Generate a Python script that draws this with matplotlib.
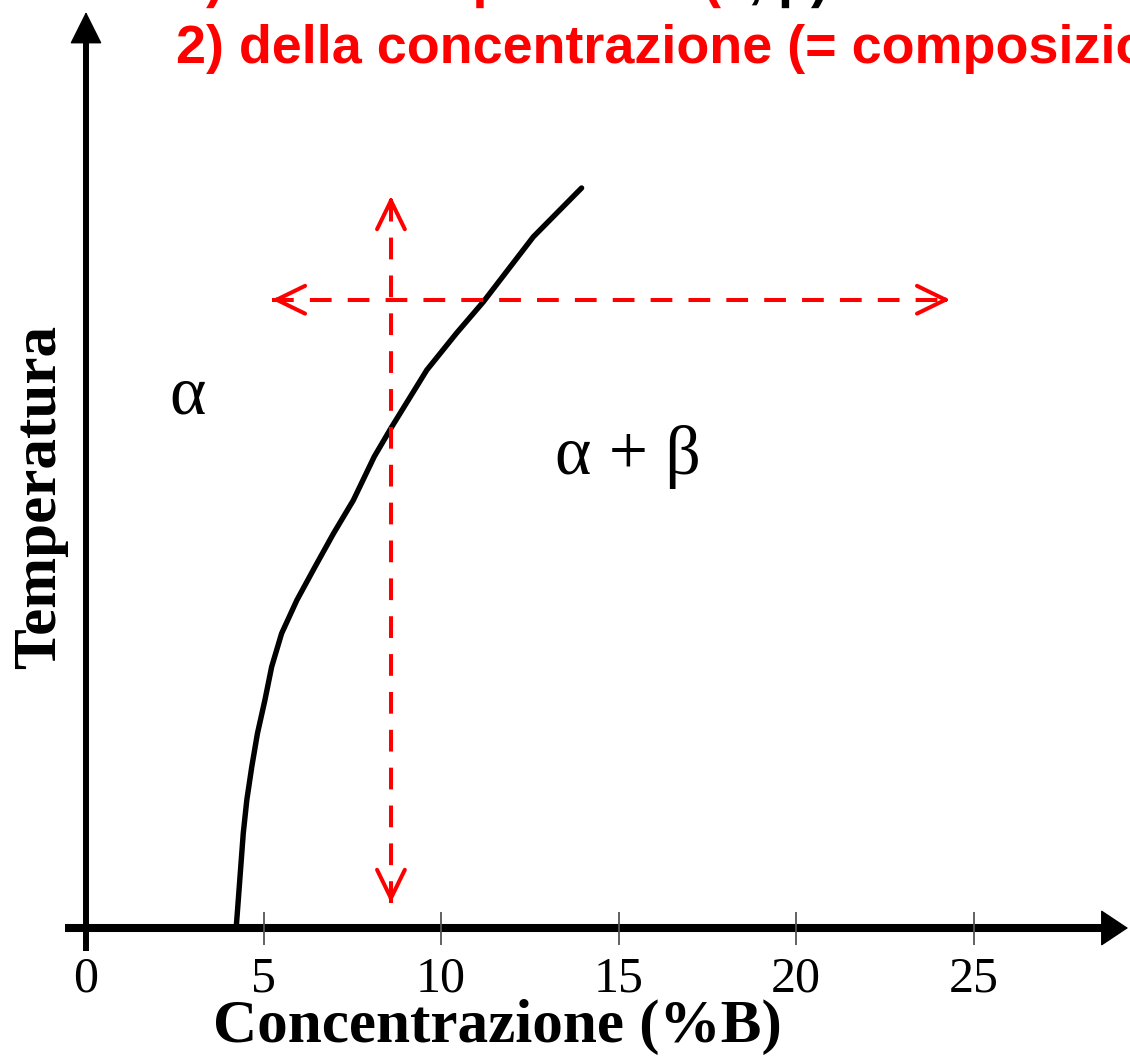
import matplotlib
matplotlib.use("Agg")
import matplotlib.pyplot as plt
from matplotlib import font_manager, patheffects
from matplotlib.patches import ArrowStyle

# solvus line: concentration (%B) vs temperature (arbitrary units)
conc = [4.23, 4.29, 4.36, 4.43, 4.53, 4.67, 4.83, 5.04, 5.23, 5.51, 5.94, 6.45, 6.97,
        7.53, 8.12, 8.61, 9.60, 10.44, 11.19, 12.60, 13.96]
temp = [0.0, 3.8, 8.3, 12.8, 17.3, 21.8, 26.3, 30.8, 35.3, 39.8, 44.3, 48.8, 53.3,
        57.8, 63.7, 67.7, 75.4, 80.4, 84.6, 93.4, 100.0]

x_ticks = [0, 5, 10, 15, 20, 25]
x_ticklabels = ["0", "5", "10", "15", "20", "25"]

# dashed red guides: constant composition and constant temperature
guide_conc = 8.59
guide_temp_range = [3.4, 98.9]
guide_temp = 84.9
guide_conc_range = [5.24, 24.34]

phase_labels = ["α", "α + β"]
phase_pos = [(2.85, 71.8), (15.27, 63.6)]

title_lines = ["1) della temperatura (", "2) della concentrazione (= composizione)"]

RED = "#ff0000"
names = {f.name for f in font_manager.fontManager.ttflist}
if "Liberation Sans Narrow" in names:
    title_font, title_size = "Liberation Sans Narrow", 47
else:
    title_font, title_size = "Liberation Sans", 38.8
serif = ["Liberation Serif", "DejaVu Serif"]

fig = plt.figure(figsize=(11.3, 10.57), dpi=100)
ax = fig.add_axes([0, 0, 1, 1])
ax.axis("off")
# 35.5 px per %B with 0 at px 86; 7.4 px per temperature unit with 0 at px 928
ax.set_xlim(-86 / 35.5, (1130 - 86) / 35.5)
ax.set_ylim((928 - 1057) / 7.4, 928 / 7.4)

x_end = (1128 - 86) / 35.5
y_top = (928 - 12) / 7.4

# axes with arrows
ax.plot([-0.6, x_end - 0.4], [0, 0], color="k", lw=5.8, solid_capstyle="butt")
ax.plot([0, 0], [-3.1, y_top - 2], color="k", lw=4.3, solid_capstyle="butt")
ax.annotate("", xy=(x_end, 0), xytext=(x_end - 0.3, 0),
            arrowprops=dict(arrowstyle=ArrowStyle("-|>", head_length=1.8, head_width=1.2),
                            mutation_scale=10, lw=1, color="k", shrinkA=0, shrinkB=0))
ax.annotate("", xy=(0, y_top), xytext=(0, y_top - 1),
            arrowprops=dict(arrowstyle=ArrowStyle("-|>", head_length=2.1, head_width=1.05),
                            mutation_scale=10, lw=1, color="k", shrinkA=0, shrinkB=0))

ax.vlines(x_ticks[1:], -2.3, 2.2, color="#555555", lw=1.3)
for xt, lab in zip(x_ticks, x_ticklabels):
    ax.text(xt, -6.9, lab, ha="center", va="center", fontsize=36, family=serif)

ax.text(11.58, -13.4, "Concentrazione (%B)", ha="center", va="center",
        fontsize=44, fontweight="bold", family=serif)
ax.text(-1.30, 58.2, "Temperatura", ha="center", va="center", rotation=90,
        fontsize=44, fontweight="bold", family=serif)

# phase boundary
ax.plot(conc, temp, color="k", lw=3.9, solid_capstyle="round", solid_joinstyle="round")

for lab, (px, py) in zip(phase_labels, phase_pos):
    ax.text(px, py, lab, ha="center", va="center", fontsize=50, family=serif)

# dashed guides
dash = (0, (5.4, 4.0))
ax.plot([guide_conc, guide_conc], guide_temp_range, color=RED, lw=2.9, linestyle=dash)
ax.plot(guide_conc_range, [guide_temp, guide_temp], color=RED, lw=2.9, linestyle=dash)
head = ArrowStyle("->", head_length=2.05, head_width=1.0)
tips = [((guide_conc, guide_temp_range[1]), (0, -1)),
        ((guide_conc, guide_temp_range[0]), (0, 1)),
        ((guide_conc_range[0], guide_temp), (0.2, 0)),
        ((guide_conc_range[1], guide_temp), (-0.2, 0))]
for (tx, ty), (dx, dy) in tips:
    ax.annotate("", xy=(tx, ty), xytext=(tx + dx, ty + dy),
                arrowprops=dict(arrowstyle=head, mutation_scale=10, lw=2.9, color=RED,
                                shrinkA=0, shrinkB=0, capstyle="round", joinstyle="round"))

# red heading; the first line sits mostly above the canvas (drawn as path so it is not clamped)
pe = [patheffects.Normal()]
t1 = fig.text(176 / 1130, 1 + 3 / 1057, title_lines[0], color=RED, fontsize=title_size,
              fontweight="bold", family=title_font, ha="left", va="baseline", path_effects=pe)
fig.text(176 / 1130, 1 - 63 / 1057, title_lines[1], color=RED, fontsize=title_size,
         fontweight="bold", family=title_font, ha="left", va="baseline")
bb = t1.get_window_extent(renderer=fig.canvas.get_renderer())
fig.text(bb.x1 / fig.bbox.width, 1 + 3 / 1057, "T, p)", color="k", fontsize=title_size,
         fontweight="bold", family=title_font, ha="left", va="baseline", path_effects=pe)

fig.savefig("out.png", dpi=100)
plt.close(fig)
